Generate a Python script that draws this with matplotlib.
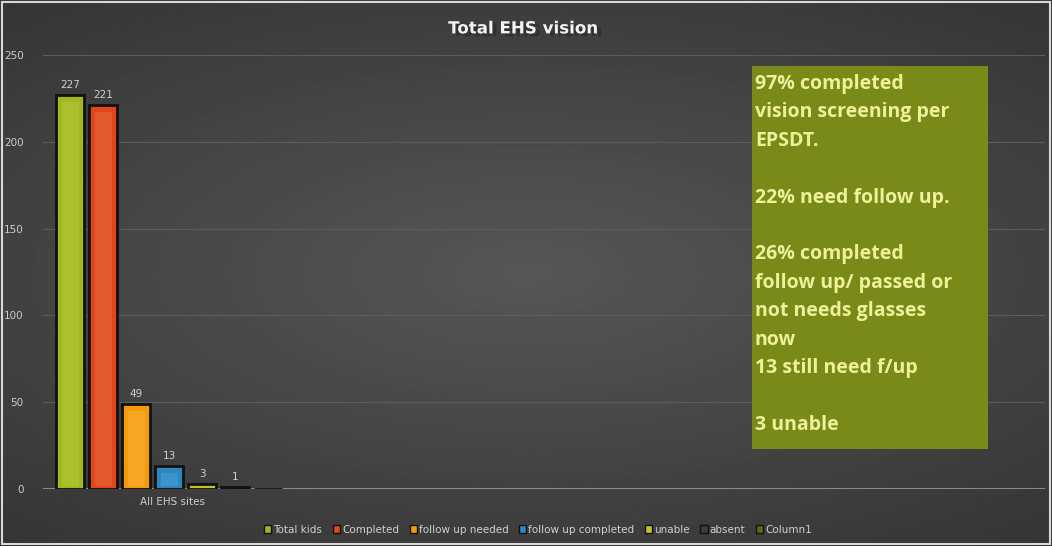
import numpy as np
import matplotlib.pyplot as plt
from matplotlib.patches import Rectangle
import matplotlib.patheffects as pe

# Data
category = 'All EHS sites'
series = ['Total kids', 'Completed', 'follow up needed', 'follow up completed',
          'unable', 'absent', 'Column1']
values = [227, 221, 49, 13, 3, 1, 0]
colors = ['#a3b81c', '#e0461a', '#f59a0c', '#2f86bf', '#c4c42a', '#3c3c3c', '#5b6b12']
highlights = ['#b5c640', '#e86a42', '#ffb13a', '#4aa0d6', '#d6d64a', '#4a4a4a', '#6b7b22']
note = ("97% completed\nvision screening per\nEPSDT.\n\n22% need follow up.\n\n"
        "26% completed\nfollow up/ passed or\nnot needs glasses\nnow\n13 still need f/up\n\n3 unable")

fig = plt.figure(figsize=(10.52, 5.46), dpi=100)

# radial-ish gradient background
bg = fig.add_axes([0, 0, 1, 1])
yy, xx = np.mgrid[-1:1:300j, -1:1:600j]
r = np.sqrt((xx * 0.9) ** 2 + (yy * 1.1) ** 2)
bg.imshow(0.34 - 0.13 * np.clip(r, 0, 1.4) / 1.4, cmap='gray', vmin=0, vmax=1,
          aspect='auto', extent=[0, 1, 0, 1])
bg.set_xlim(0, 1)
bg.set_ylim(0, 1)
bg.axis('off')
bg.add_patch(Rectangle((0.002, 0.003), 0.996, 0.994, fill=False, ec='#d8d8d8', lw=1.5))

ax = fig.add_axes([0.0409, 0.1044, 0.9525, 0.7946])
ax.patch.set_alpha(0)
x = np.arange(len(series)) - 3
width = 0.85
for xi, v, c, h, name in zip(x, values, colors, highlights, series):
    ax.bar(xi, v, width=width, color=c, edgecolor='#111111', linewidth=2, label=name, zorder=3)
    if v > 4:
        ax.bar(xi, v - 6, bottom=2, width=width * 0.6, color=h, linewidth=0, alpha=0.55, zorder=4)
    if name != 'Column1':
        ax.text(xi, v + 3, str(v), ha='center', va='bottom', fontsize=7.5, color='#d0d0d0', zorder=5)

ax.set_ylim(0, 250)
ax.set_xlim(-3.82, 26.5)
ax.set_yticks([0, 50, 100, 150, 200, 250])
ax.set_xticks([0.1])
ax.set_xticklabels([category])
ax.grid(axis='y', color='#5c5c5c', linewidth=0.8, zorder=0)
ax.axhline(0, color='#9a9a9a', linewidth=1.2, zorder=2)
for s in ax.spines.values():
    s.set_visible(False)
ax.tick_params(axis='both', length=0, colors='#cccccc', labelsize=7.5)
ax.tick_params(axis='y', pad=14)
ax.tick_params(axis='x', pad=6)

leg = ax.legend(loc='center', bbox_to_anchor=(0.494, -0.094), ncol=7, frameon=False,
                fontsize=7.5, handlelength=0.7, handleheight=0.7, handletextpad=0.2,
                columnspacing=1.0, labelcolor='#d0d0d0')
for hnd in leg.legend_handles:
    hnd.set_linewidth(1)

fig.text(0.497, 0.948, 'Total EHS vision', ha='center', va='center', fontsize=12,
         fontweight='bold', color='#f4f4f4',
         path_effects=[pe.withSimplePatchShadow(offset=(3, -2), shadow_rgbFace='#222222', alpha=0.5)])

# annotation box
fig.patches.append(Rectangle((752 / 1052, 1 - 449 / 546), 236 / 1052, 383 / 546,
                             transform=fig.transFigure, facecolor='#7a8a18', edgecolor='none',
                             zorder=5))
fig.text(755 / 1052, 1 - 74 / 546, note, ha='left', va='top', fontsize=14,
         fontweight='bold', color='#eef09a', family='Open Sans', linespacing=1.56, zorder=6)

fig.savefig('out.png', dpi=100)
